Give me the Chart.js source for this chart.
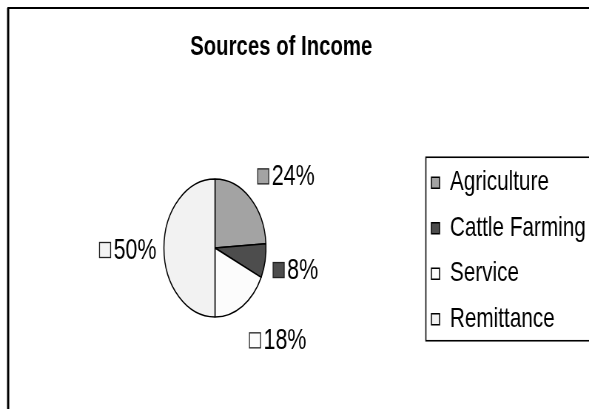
<!DOCTYPE html>
<html><head><meta charset="utf-8">
<script src="https://cdn.jsdelivr.net/npm/chart.js@4/dist/chart.umd.min.js"></script>
<style>
html,body{margin:0;padding:0;background:#fff;overflow:hidden}
#wrap{position:relative;width:589px;height:409px;overflow:hidden;background:#fff}
#c{position:absolute;left:0;top:0;transform-origin:0 0;transform:scaleX(0.74)}
</style></head><body>
<div id="wrap"><canvas id="c" width="840" height="409"></canvas></div>
<script>
const categories = ['Agriculture', 'Cattle Farming', 'Service', 'Remittance'];
const shares = [24, 8, 18, 50];
const sliceColors = ['#a3a3a3', '#4d4d4d', '#fcfcfc', '#f2f2f2'];
const chartTitle = 'Sources of Income';

const FONT = '"Liberation Sans", Arial, sans-serif';
const TITLE_CENTER_X = 380;

const decor = {
  id: 'decor',
  afterLayout(chart) {
    const t = chart.titleBlock;
    if (t) { t.left = 0; t.right = TITLE_CENTER_X * 2; }
  },
  beforeDraw(chart) {
    const ctx = chart.ctx;
    ctx.save();
    ctx.strokeStyle = '#000';
    ctx.lineWidth = 3;
    ctx.beginPath(); ctx.moveTo(11, chart.height + 5); ctx.lineTo(11, 8); ctx.stroke();
    ctx.lineWidth = 2;
    ctx.beginPath(); ctx.moveTo(10, 8); ctx.lineTo(chart.width + 10, 8); ctx.stroke();
    ctx.restore();
  },
  afterDatasetsDraw(chart) {
    const ctx = chart.ctx;
    const meta = chart.getDatasetMeta(0);
    const total = shares.reduce((a, b) => a + b, 0);
    ctx.save();
    ctx.font = '29px ' + FONT;
    meta.data.forEach((arc, i) => {
      const p = arc.getProps(['x', 'y', 'startAngle', 'endAngle', 'outerRadius'], true);
      const a = (p.startAngle + p.endAngle) / 2;
      const text = Math.round(shares[i] / total * 100) + '%';
      const tw = ctx.measureText(text).width;
      const mW = 15, gap = 4;
      const w = mW + gap + tw;
      const ux = Math.cos(a), uy = Math.sin(a);
      const ax = p.x + ux * (p.outerRadius + 10);
      const ay = p.y + uy * (p.outerRadius + 10);
      const k = Math.max(-1, Math.min(1, ux / 0.3));
      const cx = ax + k * w / 2 + Math.sign(ux) * Math.abs(uy) * 5;
      const cy = ay + uy * (uy < 0 ? 22 : 28) + 2;
      const left = cx - w / 2;
      ctx.fillStyle = sliceColors[i];
      ctx.fillRect(left, cy - mW / 2, mW, mW);
      ctx.strokeStyle = '#222'; ctx.lineWidth = 1.3;
      ctx.strokeRect(left, cy - mW / 2, mW, mW);
      ctx.fillStyle = '#000';
      ctx.textBaseline = 'middle'; ctx.textAlign = 'left';
      ctx.fillText(text, left + mW + gap, cy + 1);
    });
    ctx.restore();
  },
  afterDraw(chart) {
    const lg = chart.legend;
    if (!lg || !lg.legendHitBoxes || !lg.legendHitBoxes.length) return;
    const hb = lg.legendHitBoxes;
    const last = hb[hb.length - 1];
    const top = hb[0].top - 11.5;
    const bottom = last.top + last.height + 7.5;
    const left = hb[0].left - 7.5;
    const ctx = chart.ctx;
    ctx.save();
    ctx.strokeStyle = '#000'; ctx.lineWidth = 1.6;
    ctx.strokeRect(left, top, chart.width + 20 - left, bottom - top);
    ctx.restore();
  }
};

new Chart(document.getElementById('c'), {
  type: 'pie',
  data: {
    labels: categories,
    datasets: [{
      data: shares,
      backgroundColor: sliceColors,
      borderColor: '#000',
      borderWidth: 1.5
    }]
  },
  options: {
    responsive: false,
    devicePixelRatio: 1,
    animation: false,
    events: [],
    radius: 69,
    layout: { padding: { left: 15.5, right: 38.4, top: 0, bottom: 51 } },
    plugins: {
      title: {
        display: true,
        text: chartTitle,
        color: '#000',
        font: { family: FONT, size: 27.5, weight: 'bold', lineHeight: 1.2 },
        padding: { top: 31, bottom: 74 }
      },
      legend: {
        display: true,
        position: 'right',
        align: 'center',
        fullSize: false,
        title: { display: true, text: '', padding: 0, font: { size: 6, lineHeight: 1 } },
        labels: {
          color: '#000',
          font: { family: FONT, size: 28 },
          boxWidth: 11,
          boxHeight: 11,
          padding: 17.5
        }
      },
      tooltip: { enabled: false }
    }
  },
  plugins: [decor]
});
</script>
</body></html>
